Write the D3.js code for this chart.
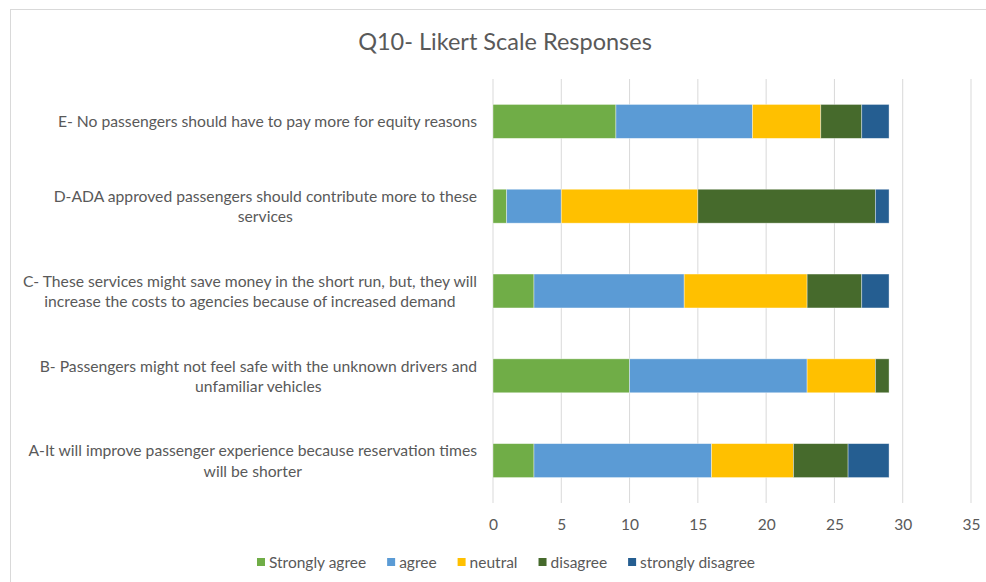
<!DOCTYPE html>
<html lang="en">
<head>
  <meta charset="UTF-8" />
  <title>Q10- Likert Scale Responses</title>
  <style>
    body {
      margin: 0;
      background: #fff;
      font-family: Lato, 'Open Sans', sans-serif;
    }
    svg text { fill: #595959; }
  </style>
</head>
<body>
  <div id="chart"></div>

  <script src="https://d3js.org/d3.v7.min.js"></script>
  <script>
    // categories, bottom to top as in the original sheet (A is drawn lowest)
    const categories = [
      ["A-It will improve passenger experience because reservation times", "will be shorter"],
      ["B- Passengers might not feel safe with the unknown drivers and", "unfamiliar vehicles"],
      ["C- These services might save money in the short run, but, they will", "increase the costs to agencies because of increased demand"],
      ["D-ADA approved passengers should contribute more to these", "services"],
      ["E- No passengers should have to pay more for equity reasons"]
    ];
    const seriesNames = ["Strongly agree", "agree", "neutral", "disagree", "strongly disagree"];
    const stronglyAgree    = [3, 10, 3, 1, 9];
    const agree            = [13, 13, 11, 4, 10];
    const neutral          = [6, 5, 9, 10, 5];
    const disagree         = [4, 1, 4, 13, 3];
    const stronglyDisagree = [3, 0, 2, 1, 2];
    const xTicks = [0, 5, 10, 15, 20, 25, 30, 35];
    const colors = ["#70ad47", "#5b9bd5", "#ffc000", "#466a2c", "#255e91"];

    const width = 986, height = 582;
    const plotLeft = 493, plotRight = 971, plotTop = 79, plotBottom = 503;

    const svg = d3.select("#chart").append("svg")
      .attr("width", width)
      .attr("height", height);

    // chart frame
    svg.append("rect")
      .attr("x", 10.5).attr("y", 9.5)
      .attr("width", 1000).attr("height", 600)
      .attr("fill", "none")
      .attr("stroke", "#d9d9d9");

    svg.append("text")
      .attr("x", 505).attr("y", 50)
      .attr("text-anchor", "middle")
      .style("font-size", "23.5px")
      .text("Q10- Likert Scale Responses");

    const keys = categories.map((c, i) => "c" + i);
    const x = d3.scaleLinear().domain([0, 35]).range([plotLeft, plotRight]);
    const y = d3.scaleBand().domain(keys.slice().reverse()).range([plotTop, plotBottom]).paddingInner(0.6).paddingOuter(0.3);

    // grid lines
    svg.append("g")
      .selectAll("line")
      .data(xTicks)
      .join("line")
      .attr("x1", d => x(d)).attr("x2", d => x(d))
      .attr("y1", plotTop).attr("y2", plotBottom)
      .attr("stroke", "#d9d9d9")
      .attr("stroke-width", 1);

    // x axis labels
    const xAxis = svg.append("g")
      .attr("transform", `translate(0,${plotBottom})`)
      .call(d3.axisBottom(x).tickValues(xTicks).tickSize(0).tickPadding(16));
    xAxis.select(".domain").remove();
    xAxis.selectAll("text")
      .style("font-size", "15.5px")
      .style("font-family", "Lato, sans-serif")
      .attr("fill", "#595959");

    // stacked bars
    const rows = keys.map((k, i) => ({
      key: k,
      s0: stronglyAgree[i], s1: agree[i], s2: neutral[i], s3: disagree[i], s4: stronglyDisagree[i]
    }));
    const stack = d3.stack().keys(["s0", "s1", "s2", "s3", "s4"]);
    const layers = stack(rows);

    svg.append("g")
      .selectAll("g")
      .data(layers)
      .join("g")
      .attr("fill", (d, i) => colors[i])
      .selectAll("rect")
      .data(d => d.map(v => ({ v, key: v.data.key })))
      .join("rect")
      .attr("x", d => x(d.v[0]))
      .attr("width", d => x(d.v[1]) - x(d.v[0]))
      .attr("y", d => y(d.key))
      .attr("height", y.bandwidth())
      .attr("stroke", "#ffffff")
      .attr("stroke-opacity", 0.5)
      .attr("stroke-width", 0.75);

    // category labels, lines centred inside a right-aligned block
    const labelRight = 477, lineH = 20.5;
    keys.forEach((k, i) => {
      const lines = categories[i];
      const g = svg.append("g");
      const cy = y(k) + y.bandwidth() / 2;
      const texts = g.selectAll("text")
        .data(lines)
        .join("text")
        .attr("text-anchor", "middle")
        .attr("dominant-baseline", "central")
        .style("font-size", "15.7px")
        .attr("y", (d, j) => cy + (j - (lines.length - 1) / 2) * lineH)
        .text(d => d);
      let maxW = 0;
      texts.each(function () { maxW = Math.max(maxW, this.getComputedTextLength()); });
      texts.attr("x", labelRight - maxW / 2);
    });

    // legend
    const legend = svg.append("g");
    let lx = 0;
    seriesNames.forEach((name, i) => {
      const item = legend.append("g").attr("transform", `translate(${lx},0)`);
      item.append("rect")
        .attr("x", 0).attr("y", -4)
        .attr("width", 8).attr("height", 8)
        .attr("fill", colors[i]);
      const t = item.append("text")
        .attr("x", 12)
        .attr("dominant-baseline", "central")
        .style("font-size", "15.5px")
        .text(name);
      lx += 12 + t.node().getComputedTextLength() + 21;
    });
    const legendW = lx - 21;
    legend.attr("transform", `translate(${506 - legendW / 2},562)`);
  </script>
</body>
</html>
